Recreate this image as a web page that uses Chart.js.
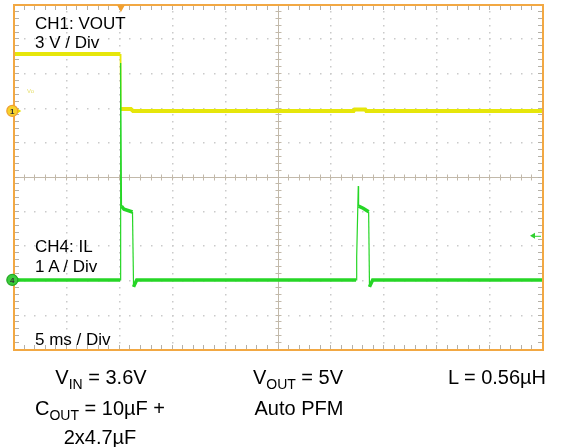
<!DOCTYPE html>
<html><head><meta charset="utf-8">
<script src="https://cdn.jsdelivr.net/npm/chart.js@4.4.0/dist/chart.umd.min.js"></script>
<style>
html,body{margin:0;padding:0;background:#fff;}
#wrap{position:relative;width:563px;height:447px;overflow:hidden;font-family:"Liberation Sans",Arial,sans-serif;color:#000;}
#c{position:absolute;left:0;top:0;}
.t{position:absolute;white-space:nowrap;font-size:17px;line-height:17px;}
.b{position:absolute;white-space:nowrap;font-size:20px;line-height:20px;text-align:center;width:200px;}
.s{font-size:14px;position:relative;top:5px;}
.tiny{position:absolute;font-size:6px;line-height:6px;color:#e6e070;}
</style></head>
<body>
<div id="wrap">
<canvas id="c" width="563" height="447" style="width:563px;height:447px"></canvas>
<div class="t" style="left:35px;top:14.6px">CH1: VOUT</div>
<div class="t" style="left:35px;top:34px">3 V / Div</div>
<div class="tiny" style="left:27px;top:88px">Vo</div>
<div class="t" style="left:35px;top:238px">CH4: IL</div>
<div class="t" style="left:35px;top:258px">1 A / Div</div>
<div class="t" style="left:35px;top:330.6px">5 ms / Div</div>
<div class="b" style="left:1px;top:367px">V<span class="s">IN</span> = 3.6V</div>
<div class="b" style="left:0px;top:398px">C<span class="s">OUT</span> = 10µF +</div>
<div class="b" style="left:0px;top:427px">2x4.7µF</div>
<div class="b" style="left:198px;top:367px">V<span class="s">OUT</span> = 5V</div>
<div class="b" style="left:199px;top:398px">Auto PFM</div>
<div class="b" style="left:397px;top:367px">L = 0.56µH</div>
</div>
<script>
// ---- scope settings ----
const timeDivs = 10, vertDivs = 10, minorPerDiv = 5;
const msPerDiv = 5;
const ch1VoltsPerDiv = 3, ch4AmpsPerDiv = 1;
const ch1OffsetDiv = 1.93, ch4OffsetDiv = -2.97;
const triggerTimeMs = 10.11, triggerLevelA = 1.28;

// ---- CH1: VOUT (V) ----
const ch1TimeMs = [0, 10.04, 10.10, 11.05, 11.25, 32.1, 32.2, 33.2, 33.3, 50];
const ch1Volts  = [4.94, 4.94, 0.16, 0.16, 0.0, 0.0, 0.13, 0.13, 0.0, 0.0];

// ---- CH4: IL (A) ----
const ch4TimeMs = [0, 10.02, 10.08, 10.16, 10.4, 11.2, 11.3, 11.6, 32.33, 32.39, 32.54, 32.57, 33.0, 33.52, 33.6, 33.9, 50];
const ch4Amps   = [0, 0, 6.29, 2.14, 2.05, 1.97, -0.2, 0, 0, 0.67, 2.72, 2.14, 2.08, 1.98, -0.2, 0, 0];

const toXY = (xs, ys) => xs.map((x, i) => ({x, y: ys[i]}));
const segW = thick => c => {
  const dx = Math.abs(c.p1.x - c.p0.x), dy = Math.abs(c.p1.y - c.p0.y);
  return dy > 3 * dx ? 1.2 : thick;
};

const scopeDecor = {
  id: 'scopeDecor',
  beforeDatasetsDraw(chart) {
    const {ctx, chartArea: a, scales} = chart;
    const xs = scales.x, yd = scales.yDiv;
    const xMin = xs.min;
    const xAt = k => xs.getPixelForValue(xMin + k * msPerDiv);
    const yAt = k => yd.getPixelForValue(-vertDivs / 2 + k);
    ctx.save();
    ctx.fillStyle = '#cacaca';
    for (let i = 1; i < timeDivs; i++) {
      if (i === timeDivs / 2) continue;
      const px = Math.round(xAt(i));
      for (let j = 1; j < vertDivs * minorPerDiv; j++) {
        const py = Math.round(yAt(j / minorPerDiv));
        ctx.fillRect(px - 1, py - 1, 1.5, 1.5);
      }
    }
    for (let j = 1; j < vertDivs; j++) {
      if (j === vertDivs / 2) continue;
      const py = Math.round(yAt(j));
      for (let i = 1; i < timeDivs * minorPerDiv; i++) {
        const px = Math.round(xAt(i / minorPerDiv));
        ctx.fillRect(px - 1, py - 1, 1.5, 1.5);
      }
    }
    const cx = Math.round(xAt(timeDivs / 2)) - 0.5, cy = Math.round(yAt(vertDivs / 2)) - 0.5;
    ctx.strokeStyle = '#c2b9aa';
    ctx.lineWidth = 1;
    ctx.beginPath();
    ctx.moveTo(a.left, cy); ctx.lineTo(a.right, cy);
    ctx.moveTo(cx, a.top); ctx.lineTo(cx, a.bottom);
    for (let i = 1; i < timeDivs * minorPerDiv; i++) {
      const px = Math.round(xAt(i / minorPerDiv)) - 0.5;
      ctx.moveTo(px, cy - 3); ctx.lineTo(px, cy + 3);
    }
    for (let j = 1; j < vertDivs * minorPerDiv; j++) {
      const py = Math.round(yAt(j / minorPerDiv)) - 0.5;
      ctx.moveTo(cx - 3, py); ctx.lineTo(cx + 3, py);
    }
    ctx.stroke();
    ctx.strokeStyle = '#b4b0a8';
    ctx.beginPath();
    for (let i = 1; i < timeDivs * minorPerDiv; i++) {
      const px = Math.round(xAt(i / minorPerDiv)) - 0.5;
      ctx.moveTo(px, a.top); ctx.lineTo(px, a.top + 5);
      ctx.moveTo(px, a.bottom); ctx.lineTo(px, a.bottom - 5);
    }
    for (let j = 1; j < vertDivs * minorPerDiv; j++) {
      const py = Math.round(yAt(j / minorPerDiv)) - 0.5;
      ctx.moveTo(a.left, py); ctx.lineTo(a.left + 5, py);
      ctx.moveTo(a.right, py); ctx.lineTo(a.right - 5, py);
    }
    ctx.stroke();
    ctx.restore();
  },
  afterDatasetsDraw(chart) {
    const {ctx, chartArea: a, scales} = chart;
    ctx.save();
    ctx.strokeStyle = '#f2a843';
    ctx.lineWidth = 2;
    ctx.strokeRect(a.left, a.top, a.right - a.left, a.bottom - a.top);
    const tx = scales.x.getPixelForValue(triggerTimeMs);
    ctx.fillStyle = '#f0a030';
    ctx.beginPath();
    ctx.moveTo(tx - 4, a.top); ctx.lineTo(tx + 4, a.top); ctx.lineTo(tx, a.top + 7); ctx.closePath();
    ctx.fill();
    const ty = scales.yA.getPixelForValue(triggerLevelA);
    ctx.fillStyle = '#30d030'; ctx.strokeStyle = '#30d030'; ctx.lineWidth = 1;
    ctx.beginPath();
    ctx.moveTo(a.right - 13, ty); ctx.lineTo(a.right - 8, ty - 3); ctx.lineTo(a.right - 8, ty + 3); ctx.closePath();
    ctx.fill();
    ctx.beginPath(); ctx.moveTo(a.right - 9, ty + 0.5); ctx.lineTo(a.right - 2, ty + 0.5); ctx.stroke();
    const mk = (y, fill, stroke, arrow, label) => {
      const x = a.left - 1.7;
      ctx.fillStyle = arrow;
      ctx.beginPath(); ctx.moveTo(x + 5, y - 2.5); ctx.lineTo(x + 9, y); ctx.lineTo(x + 5, y + 2.5); ctx.closePath(); ctx.fill();
      ctx.beginPath(); ctx.arc(x, y, 5.5, 0, Math.PI * 2);
      ctx.fillStyle = fill; ctx.fill();
      ctx.lineWidth = 1.2; ctx.strokeStyle = stroke; ctx.stroke();
      ctx.fillStyle = '#333';
      ctx.font = 'bold 8px "Liberation Sans", Arial, sans-serif';
      ctx.textAlign = 'center'; ctx.textBaseline = 'middle';
      ctx.fillText(label, x, y + 0.5);
    };
    mk(scales.yV.getPixelForValue(0), '#f6d22a', '#f0a030', '#e8e000', '1');
    mk(scales.yA.getPixelForValue(0), '#3ccc3c', '#22a822', '#22d022', '4');
    ctx.restore();
  }
};

new Chart(document.getElementById('c'), {
  type: 'line',
  data: {
    datasets: [
      {
        label: 'CH4: IL', data: toXY(ch4TimeMs, ch4Amps), yAxisID: 'yA', xAxisID: 'x',
        borderColor: '#26d626', borderWidth: 3.5, pointRadius: 0, tension: 0,
        segment: { borderWidth: segW(3.5) }, borderJoinStyle: 'miter'
      },
      {
        label: 'CH1: VOUT', data: toXY(ch1TimeMs, ch1Volts), yAxisID: 'yV', xAxisID: 'x',
        borderColor: '#e6e60a', borderWidth: 4, pointRadius: 0, tension: 0,
        segment: { borderWidth: segW(4) }, borderJoinStyle: 'miter'
      }
    ]
  },
  options: {
    responsive: false, animation: false, events: [],
    layout: { padding: { left: 14, top: 5, right: 20, bottom: 97 } },
    plugins: { legend: { display: false }, tooltip: { enabled: false }, title: { display: false } },
    scales: {
      x: { type: 'linear', min: 0, max: timeDivs * msPerDiv, display: false },
      yV: { type: 'linear', axis: 'y', display: false,
            min: (-vertDivs / 2 - ch1OffsetDiv) * ch1VoltsPerDiv, max: (vertDivs / 2 - ch1OffsetDiv) * ch1VoltsPerDiv },
      yA: { type: 'linear', axis: 'y', display: false,
            min: (-vertDivs / 2 - ch4OffsetDiv) * ch4AmpsPerDiv, max: (vertDivs / 2 - ch4OffsetDiv) * ch4AmpsPerDiv },
      yDiv: { type: 'linear', axis: 'y', display: false, min: -vertDivs / 2, max: vertDivs / 2 }
    }
  },
  plugins: [scopeDecor]
});
</script>
</body></html>
